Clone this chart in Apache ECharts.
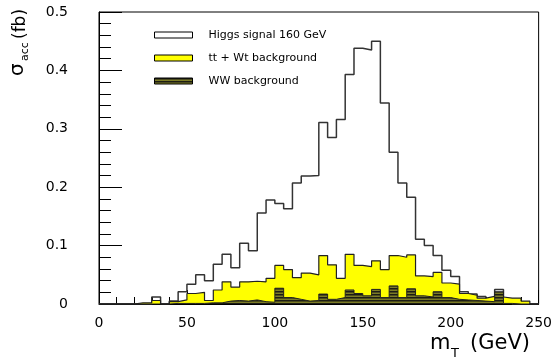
<!DOCTYPE html>
<html><head><meta charset="utf-8">
<script src="https://cdn.jsdelivr.net/npm/echarts@6/dist/echarts.min.js"></script>
<style>html,body{margin:0;padding:0;background:#fff}#c{width:555px;height:358px}</style>
</head><body><div id="c"></div>
<script>
// 5 GeV bins, left edges
const binStarts = [0,5,10,15,20,25,30,35,40,45,50,55,60,65,70,75,80,85,90,95,100,105,110,115,120,125,130,135,140,145,150,155,160,165,170,175,180,185,190,195,200,205,210,215,220,225,230,235,240,245];
const binEnd = 250;
const higgs = [0,0,0,0,0,0,0.012,0,0.005,0.021,0.034,0.050,0.040,0.068,0.085,0.062,0.104,0.091,0.156,0.178,0.172,0.163,0.207,0.219,0.220,0.311,0.285,0.316,0.393,0.438,0.435,0.450,0.344,0.260,0.207,0.183,0.111,0.100,0.083,0.058,0.047,0.021,0.017,0.013,0.008,0.025,0.005,0,0,0];
const ttWt = [0,0,0,0,0.002,0.002,0.006,0,0.004,0.007,0.018,0.020,0.006,0.024,0.038,0.029,0.038,0.039,0.038,0.044,0.066,0.059,0.045,0.053,0.050,0.083,0.067,0.044,0.085,0.066,0.064,0.074,0.059,0.083,0.080,0.084,0.048,0.047,0.054,0.036,0.034,0.018,0.015,0.010,0.013,0.012,0.010,0.010,0.005,0];
const ww = [0,0,0,0,0,0,0,0,0.001,0.001,0.001,0.001,0.002,0.002,0.005,0.006,0.005,0.007,0.004,0.003,0.027,0.011,0.008,0.005,0.006,0.017,0.008,0.011,0.024,0.018,0.014,0.025,0.011,0.031,0.011,0.026,0.014,0.012,0.021,0.011,0.008,0.007,0.006,0.005,0.004,0.021,0.001,0,0,0];
const seriesNames = ['Higgs signal 160 GeV', 'tt + Wt background', 'WW background'];
const xTicks = [0,50,100,150,200,250];
const yTicks = [0,0.1,0.2,0.3,0.4,0.5];

function stepData(vals){
  const d = binStarts.map((x,i)=>[x, vals[i]]);
  d.push([binEnd, vals[vals.length-1]]);
  return d;
}
function hatch(){
  const c = document.createElement('canvas');
  c.width = 4; c.height = 3;
  const g = c.getContext('2d');
  g.fillStyle = '#7c7c26'; g.fillRect(0,0,4,3);
  g.fillStyle = '#1c1c14'; g.fillRect(0,0,4,1.5);
  return {image: c, repeat: 'repeat'};
}
const FONT = 'DejaVu Sans';
const chart = echarts.init(document.getElementById('c'), null, {renderer:'canvas'});
const hatchPat = hatch();
chart.setOption({
  animation: false,
  backgroundColor: '#fff',
  grid: {left: 99, right: 16, top: 12, bottom: 54, show: true, borderColor: '#000', borderWidth: 1, backgroundColor: 'transparent'},
  xAxis: {
    type: 'value', min: xTicks[0], max: xTicks[xTicks.length-1], interval: 50,
    axisLine: {lineStyle: {color: '#000', width: 1}},
    axisTick: {show: true, inside: true, length: 14, lineStyle: {color: '#000'}},
    minorTick: {show: true, splitNumber: 5, length: 7, lineStyle: {color: '#000'}},
    splitLine: {show: false},
    axisLabel: {color: '#000', fontFamily: FONT, fontSize: 14, margin: 12}
  },
  yAxis: {
    type: 'value', min: yTicks[0], max: yTicks[yTicks.length-1], interval: 0.1,
    axisLine: {lineStyle: {color: '#000', width: 1}},
    axisTick: {show: true, inside: true, length: 23, lineStyle: {color: '#000'}},
    minorTick: {show: true, splitNumber: 5, length: 12, lineStyle: {color: '#000'}},
    splitLine: {show: false},
    axisLabel: {color: '#000', fontFamily: FONT, fontSize: 14, margin: 31}
  },
  legend: {
    orient: 'vertical', left: 149, top: 23, itemWidth: 38, itemHeight: 6, itemGap: 9,
    textStyle: {fontFamily: FONT, fontSize: 11, color: '#000', lineHeight: 14, padding: [0,0,0,11]},
    data: [
      {name: seriesNames[0], icon: 'rect', itemStyle: {color: '#fff', borderColor: '#000', borderWidth: 1}},
      {name: seriesNames[1], icon: 'rect', itemStyle: {color: '#ffff00', borderColor: '#000', borderWidth: 1}},
      {name: seriesNames[2], icon: 'rect', itemStyle: {color: hatchPat, borderColor: '#000', borderWidth: 1}}
    ]
  },
  series: [
    {name: seriesNames[0], type: 'line', step: 'end', symbol: 'none', z: 2,
     data: stepData(higgs), lineStyle: {color: '#333', width: 1.5}, itemStyle: {color: '#fff'}},
    {name: seriesNames[1], type: 'line', step: 'end', symbol: 'none', z: 3,
     data: stepData(ttWt), lineStyle: {color: '#222', width: 1.2}, itemStyle: {color: '#ffff00'},
     areaStyle: {color: '#ffff00', opacity: 1}},
    {name: seriesNames[2], type: 'line', step: 'end', symbol: 'none', z: 4,
     data: stepData(ww), lineStyle: {color: '#222', width: 1}, itemStyle: {color: '#555'},
     areaStyle: {color: hatchPat, opacity: 1}}
  ],
  graphic: [
    {type: 'group', x: 430, y: 354, children: [
      {type: 'text', x: 0, y: 0, style: {text: 'm', font: '21px "DejaVu Sans"', fill: '#000', verticalAlign: 'bottom'}},
      {type: 'text', x: 21, y: 6, style: {text: 'T', font: '13px "DejaVu Sans"', fill: '#000', verticalAlign: 'bottom'}},
      {type: 'text', x: 40, y: 0, style: {text: '(GeV)', font: '21px "DejaVu Sans"', fill: '#000', verticalAlign: 'bottom'}}
    ]},
    {type: 'group', x: 28, y: 76, rotation: Math.PI/2, children: [
      {type: 'text', x: 0, y: 0, style: {text: 'σ', font: '20px "DejaVu Sans"', fill: '#000', verticalAlign: 'bottom'}},
      {type: 'text', x: 15, y: 3, style: {text: 'acc', font: '11px "DejaVu Sans"', fill: '#000', verticalAlign: 'bottom'}},
      {type: 'text', x: 37, y: 1, style: {text: '(fb)', font: '17px "DejaVu Sans"', fill: '#000', verticalAlign: 'bottom'}}
    ]}
  ]
});
</script></body></html>
